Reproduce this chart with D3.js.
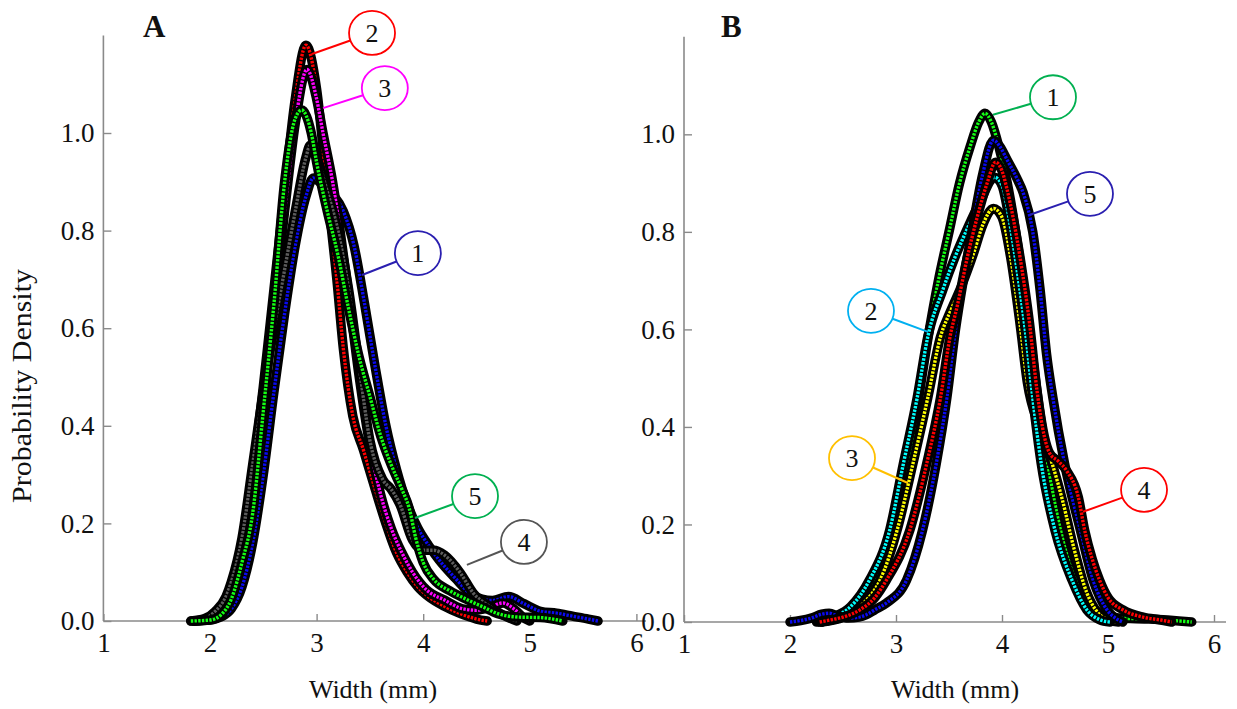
<!DOCTYPE html>
<html>
<head>
<meta charset="utf-8">
<script src="https://cdn.jsdelivr.net/npm/d3@7"></script>
<style>
  html, body { margin: 0; padding: 0; background: #fff; }
  svg { display: block; }
  text { font-family: "Liberation Serif", "Times New Roman", serif; }
</style>
</head>
<body>
<svg id="chart" width="1237" height="709"></svg>
<script>
// ---------------- DATA ----------------
const xTicks = [1, 2, 3, 4, 5, 6];
const yTicks = [0, 0.2, 0.4, 0.6, 0.8, 1.0];
const panelLabels = ["A", "B"];
const xTitle = "Width (mm)";
const yTitle = "Probability Density";

// Panel A series: [width, density]
const A1 = [[1.85,0],[2.0,0.002],[2.1,0.008],[2.2,0.025],[2.3,0.07],[2.4,0.16],[2.5,0.3],[2.6,0.47],[2.7,0.63],[2.8,0.77],[2.9,0.87],[2.97,0.908],[3.05,0.895],[3.15,0.875],[3.25,0.84],[3.35,0.77],[3.45,0.65],[3.55,0.52],[3.65,0.4],[3.75,0.31],[3.85,0.24],[3.95,0.19],[4.05,0.155],[4.15,0.125],[4.3,0.088],[4.45,0.055],[4.55,0.045],[4.65,0.042],[4.8,0.05],[4.95,0.035],[5.1,0.02],[5.25,0.016],[5.4,0.01],[5.55,0.004],[5.64,0]];
const A2 = [[1.85,0],[2.0,0.005],[2.1,0.02],[2.2,0.06],[2.3,0.15],[2.4,0.3],[2.5,0.48],[2.6,0.68],[2.7,0.88],[2.8,1.07],[2.9,1.18],[3.0,1.09],[3.1,0.88],[3.19,0.70],[3.25,0.56],[3.34,0.42],[3.44,0.35],[3.55,0.27],[3.65,0.2],[3.75,0.14],[3.85,0.1],[3.95,0.07],[4.05,0.05],[4.2,0.03],[4.35,0.015],[4.5,0.004],[4.6,0]];
const A3 = [[1.85,0],[2.0,0.004],[2.1,0.02],[2.2,0.055],[2.3,0.14],[2.4,0.28],[2.5,0.45],[2.6,0.64],[2.7,0.84],[2.8,1.02],[2.91,1.13],[3.0,1.07],[3.06,1.0],[3.15,0.9],[3.22,0.8],[3.3,0.67],[3.4,0.5],[3.5,0.36],[3.6,0.26],[3.7,0.19],[3.8,0.14],[3.9,0.1],[4.03,0.064],[4.2,0.043],[4.37,0.025],[4.5,0.022],[4.62,0.028],[4.75,0.037],[4.85,0.025],[4.95,0.005],[5.0,0]];
const A4 = [[1.82,0],[1.95,0.005],[2.05,0.02],[2.15,0.05],[2.2,0.08],[2.3,0.17],[2.4,0.32],[2.5,0.47],[2.6,0.6],[2.7,0.72],[2.8,0.84],[2.9,0.95],[2.94,0.975],[3.0,0.95],[3.1,0.88],[3.2,0.8],[3.3,0.68],[3.4,0.52],[3.5,0.37],[3.62,0.29],[3.7,0.27],[3.78,0.24],[3.9,0.166],[4.0,0.145],[4.1,0.145],[4.2,0.135],[4.35,0.098],[4.47,0.057],[4.63,0.029],[4.75,0.012],[4.88,0]];
const A5 = [[1.82,0],[2.0,0.002],[2.1,0.012],[2.2,0.045],[2.3,0.12],[2.4,0.22],[2.5,0.43],[2.6,0.65],[2.7,0.9],[2.8,1.03],[2.86,1.047],[2.95,1.0],[3.0,0.94],[3.1,0.84],[3.2,0.75],[3.3,0.64],[3.4,0.54],[3.5,0.46],[3.6,0.38],[3.7,0.32],[3.8,0.27],[3.87,0.23],[3.93,0.17],[4.0,0.12],[4.1,0.085],[4.25,0.062],[4.4,0.045],[4.56,0.029],[4.7,0.015],[4.9,0.008],[5.1,0.007],[5.31,0]];

// Panel B series
const B1 = [[2.25,0],[2.4,0.005],[2.6,0.025],[2.7,0.05],[2.8,0.085],[2.9,0.14],[3.0,0.21],[3.1,0.31],[3.2,0.44],[3.3,0.58],[3.4,0.7],[3.5,0.8],[3.6,0.9],[3.7,0.975],[3.78,1.025],[3.84,1.043],[3.9,1.025],[3.97,0.975],[4.05,0.9],[4.15,0.77],[4.25,0.61],[4.35,0.44],[4.45,0.3],[4.55,0.19],[4.65,0.11],[4.75,0.06],[4.85,0.03],[4.95,0.015],[5.1,0.008],[5.4,0.006],[5.79,0]];
const B2 = [[2.3,0],[2.41,0.01],[2.57,0.031],[2.75,0.086],[2.94,0.188],[3.07,0.325],[3.2,0.46],[3.3,0.585],[3.44,0.68],[3.56,0.75],[3.68,0.81],[3.8,0.865],[3.93,0.912],[4.0,0.895],[4.08,0.81],[4.15,0.71],[4.22,0.598],[4.29,0.46],[4.37,0.325],[4.5,0.188],[4.66,0.086],[4.8,0.025],[4.92,0.005],[5.02,0]];
const B3 = [[2.3,0],[2.5,0.01],[2.7,0.04],[2.85,0.086],[3.01,0.188],[3.16,0.325],[3.3,0.46],[3.42,0.585],[3.52,0.64],[3.62,0.69],[3.73,0.755],[3.82,0.815],[3.92,0.848],[4.0,0.83],[4.08,0.75],[4.17,0.612],[4.24,0.49],[4.35,0.4],[4.48,0.32],[4.57,0.25],[4.68,0.15],[4.8,0.06],[4.9,0.02],[5.0,0.005],[5.1,0]];
const B4 = [[2.28,0],[2.4,0.005],[2.5,0.01],[2.66,0.025],[2.8,0.05],[2.91,0.086],[3.13,0.188],[3.29,0.325],[3.42,0.46],[3.51,0.585],[3.58,0.65],[3.67,0.745],[3.76,0.825],[3.86,0.9],[3.94,0.943],[4.0,0.925],[4.05,0.885],[4.17,0.748],[4.26,0.612],[4.33,0.475],[4.4,0.38],[4.45,0.346],[4.53,0.33],[4.61,0.31],[4.72,0.256],[4.78,0.188],[4.85,0.13],[4.92,0.086],[5.0,0.05],[5.14,0.025],[5.33,0.01],[5.5,0.004],[5.6,0]];
const B5 = [[2.0,0],[2.1,0.003],[2.2,0.008],[2.3,0.016],[2.37,0.018],[2.45,0.012],[2.55,0.008],[2.65,0.01],[2.72,0.015],[2.8,0.025],[2.91,0.039],[3.1,0.086],[3.25,0.188],[3.38,0.325],[3.48,0.46],[3.56,0.598],[3.65,0.72],[3.73,0.818],[3.82,0.92],[3.92,0.988],[3.98,0.975],[4.05,0.947],[4.14,0.91],[4.2,0.88],[4.29,0.8],[4.36,0.68],[4.42,0.55],[4.48,0.46],[4.59,0.325],[4.74,0.188],[4.86,0.086],[4.99,0.025],[5.07,0.008],[5.14,0]];

// series draw order, label numbers, colours
const seriesA = [
  {name: "1", data: A1, color: "#0a0af0", ring: "#2a1fb0"},
  {name: "2", data: A2, color: "#ff0000", ring: "#ff0000"},
  {name: "3", data: A3, color: "#ff00ff", ring: "#ff00ff"},
  {name: "4", data: A4, color: "#5c5c5c", ring: "#555555"},
  {name: "5", data: A5, color: "#14ff14", ring: "#00b050"}
];
const seriesB = [
  {name: "1", data: B1, color: "#14ff14", ring: "#00b050"},
  {name: "3", data: B3, color: "#ffff00", ring: "#ffc000"},
  {name: "2", data: B2, color: "#00ffff", ring: "#00b0f0"},
  {name: "5", data: B5, color: "#0a0af0", ring: "#2a1fb0"},
  {name: "4", data: B4, color: "#ff0000", ring: "#ff0000"}
];

// callouts: anchor on curve and circle centre, both in data units
const calloutsA = [
  {label: "2", anchor: [2.957, 1.162], center: [3.52, 1.205]},
  {label: "3", anchor: [3.06, 1.051], center: [3.64, 1.092]},
  {label: "1", anchor: [3.426, 0.709], center: [3.95, 0.754]},
  {label: "5", anchor: [3.923, 0.211], center: [4.486, 0.256]},
  {label: "4", anchor: [4.41, 0.115], center: [4.945, 0.162]}
];
const calloutsB = [
  {label: "1", anchor: [3.915, 1.04], center: [4.481, 1.076]},
  {label: "5", anchor: [4.264, 0.835], center: [4.83, 0.878]},
  {label: "2", anchor: [3.302, 0.595], center: [2.764, 0.638]},
  {label: "3", anchor: [3.113, 0.285], center: [2.585, 0.336]},
  {label: "4", anchor: [4.764, 0.226], center: [5.34, 0.271]}
];

// ---------------- DRAW ----------------
const svg = d3.select("#chart");
const axisColor = "#8a8a8a";
const serif = "Liberation Serif, Times New Roman, serif";

function panel(cfg) {
  const x = d3.scaleLinear().domain([1, 6]).range([cfg.x0, cfg.x1]);
  const y = d3.scaleLinear().domain([0, 1.2]).range([cfg.y0, cfg.y1]);
  const g = svg.append("g");

  // axis lines
  g.append("line").attr("x1", cfg.x0).attr("x2", cfg.x0).attr("y1", cfg.y0).attr("y2", cfg.y1)
    .attr("stroke", axisColor).attr("stroke-width", 1.6);
  g.append("line").attr("x1", cfg.x0).attr("x2", cfg.xEnd).attr("y1", cfg.y0).attr("y2", cfg.y0)
    .attr("stroke", axisColor).attr("stroke-width", 1.6);

  const yAx = g.append("g").attr("transform", `translate(${cfg.x0},0)`)
    .call(d3.axisLeft(y).tickValues(yTicks).tickFormat(d3.format(".1f")).tickSizeInner(-8).tickSizeOuter(0).tickPadding(9));
  yAx.attr("font-family", serif);
  yAx.select(".domain").remove();
  yAx.selectAll(".tick line").attr("stroke", axisColor).attr("stroke-width", 1.4);
  yAx.selectAll(".tick text").attr("font-size", 27).attr("fill", "#111").attr("font-family", serif);

  const xAx = g.append("g").attr("transform", `translate(0,${cfg.y0})`)
    .call(d3.axisBottom(x).tickValues(xTicks).tickFormat(d3.format("d")).tickSizeInner(-7).tickSizeOuter(0).tickPadding(12));
  xAx.attr("font-family", serif);
  xAx.select(".domain").remove();
  xAx.selectAll(".tick line").attr("stroke", axisColor).attr("stroke-width", 1.4);
  xAx.selectAll(".tick text").attr("font-size", 27).attr("fill", "#111").attr("font-family", serif)
    .attr("dy", "0.71em");

  // curves
  const line = d3.line().x(d => x(d[0])).y(d => y(d[1])).curve(d3.curveMonotoneX);
  cfg.series.forEach(s => {
    g.append("path").datum(s.data).attr("d", line).attr("fill", "none")
      .attr("stroke", "#000").attr("stroke-width", 9.5).attr("stroke-linejoin", "round").attr("stroke-linecap", "round");
    g.append("path").datum(s.data).attr("d", line).attr("fill", "none")
      .attr("stroke", s.color).attr("stroke-width", 3.4).attr("stroke-dasharray", "2.4 1.3");
  });

  // callouts
  const r = 23;
  cfg.callouts.forEach(c => {
    const s = cfg.series.find(d => d.name === c.label);
    const ax = x(c.anchor[0]), ay = y(c.anchor[1]);
    const cx = x(c.center[0]), cy = y(c.center[1]);
    const dx = cx - ax, dy = cy - ay, len = Math.hypot(dx, dy);
    g.append("line").attr("x1", ax).attr("y1", ay)
      .attr("x2", cx - dx / len * r).attr("y2", cy - dy / len * r)
      .attr("stroke", s.ring).attr("stroke-width", 2);
    g.append("ellipse").attr("cx", cx).attr("cy", cy).attr("rx", r).attr("ry", r - 1)
      .attr("fill", "#fff").attr("stroke", s.ring).attr("stroke-width", 1.8);
    g.append("text").attr("x", cx).attr("y", cy).attr("dy", "0.35em").attr("text-anchor", "middle")
      .attr("font-family", serif).attr("font-size", 26).attr("fill", "#111").text(c.label);
  });

  // panel letter
  g.append("text").attr("x", cfg.letterX).attr("y", 37).attr("font-size", 31).attr("font-weight", "bold")
    .attr("font-family", serif).attr("fill", "#111").text(cfg.letter);

  // x title
  g.append("text").attr("x", cfg.titleX).attr("y", 698).attr("text-anchor", "middle")
    .attr("font-family", serif).attr("font-size", 26).attr("fill", "#111").text(xTitle);
}

panel({x0: 103.4, x1: 636.4, xEnd: 646, y0: 621, y1: 35.4, series: seriesA, callouts: calloutsA,
       letter: panelLabels[0], letterX: 143, titleX: 373});
panel({x0: 684, x1: 1214, xEnd: 1226, y0: 622, y1: 36.8, series: seriesB, callouts: calloutsB,
       letter: panelLabels[1], letterX: 721, titleX: 955});

svg.append("text").attr("transform", "translate(31,386) rotate(-90)").attr("text-anchor", "middle")
  .attr("font-family", serif).attr("font-size", 27).attr("textLength", 234).attr("lengthAdjust", "spacingAndGlyphs")
  .attr("fill", "#111").text(yTitle);
</script>
</body>
</html>
